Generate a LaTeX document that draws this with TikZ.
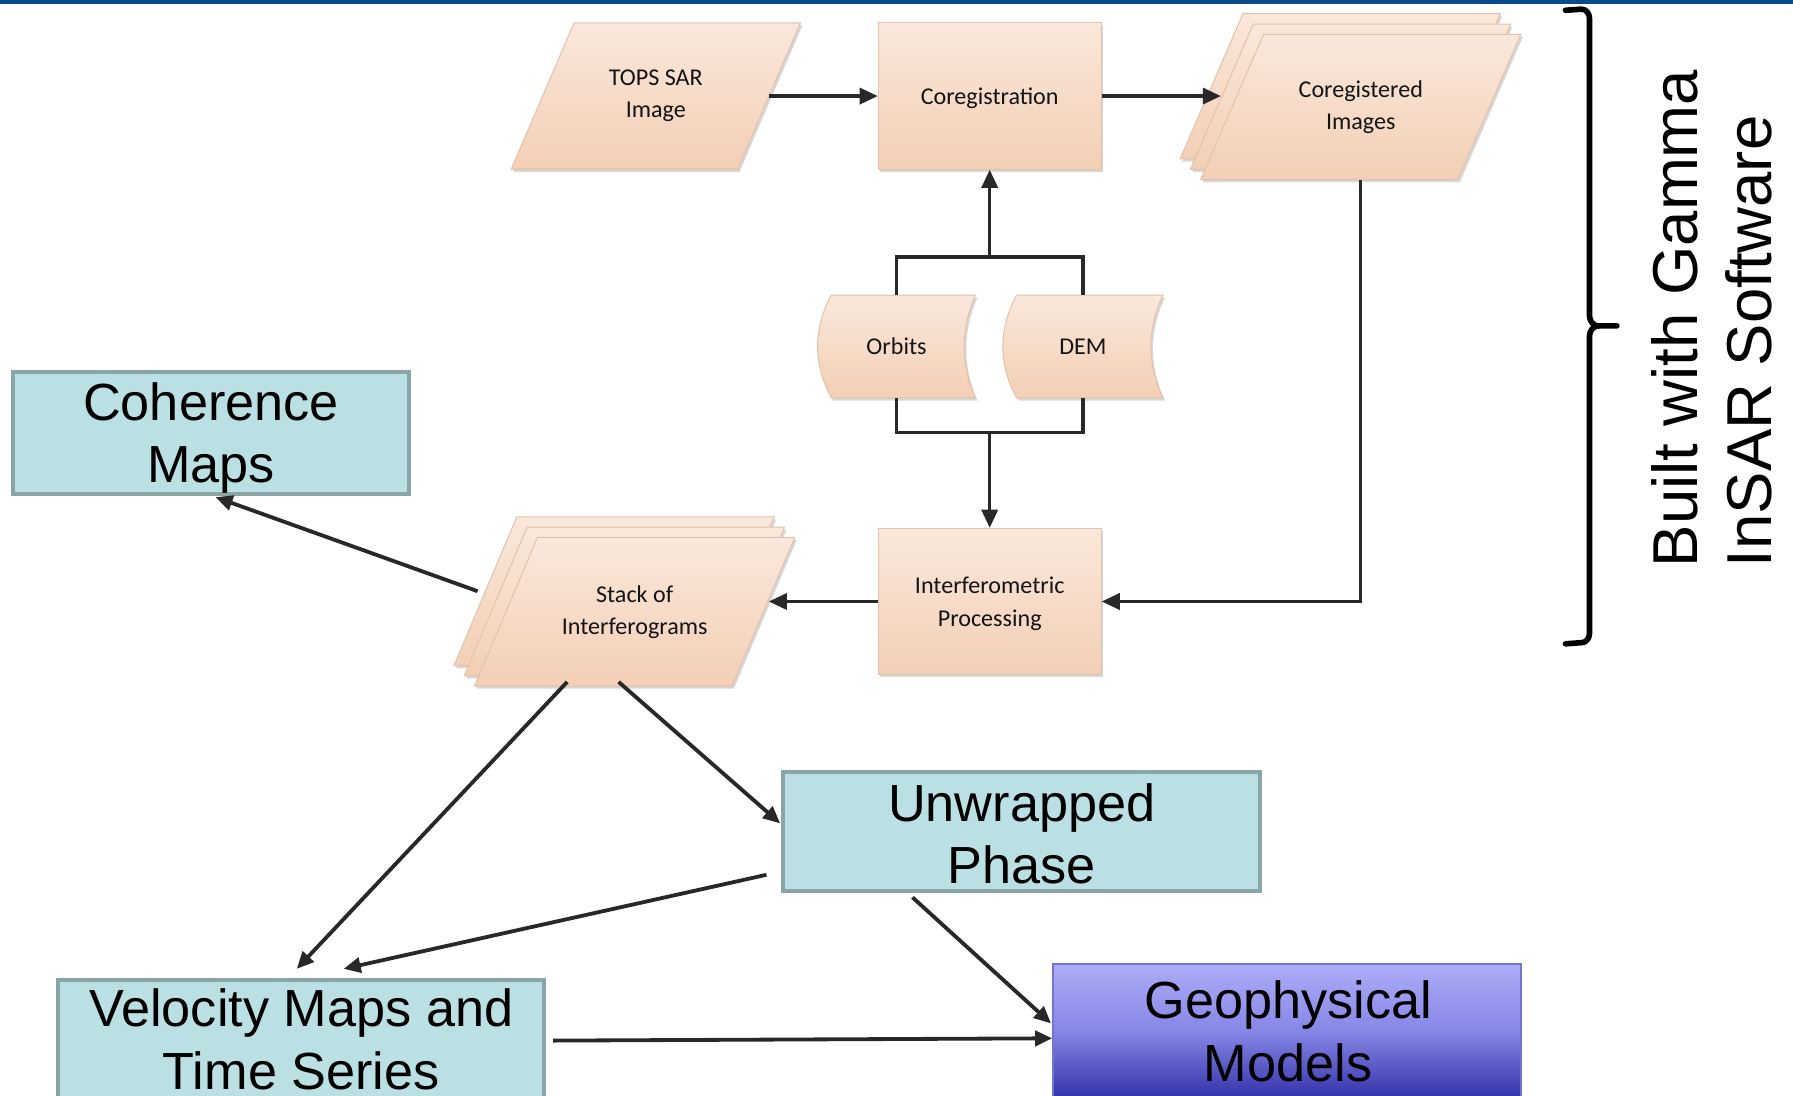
\documentclass[tikz,border=0pt]{standalone}
\usepackage{fontspec}
\setmainfont{Liberation Sans}
\newfontfamily\calfont{Carlito}
\usetikzlibrary{arrows.meta,calc,shadows}
\definecolor{navyband}{HTML}{0A4A8C}
\definecolor{peachtop}{HTML}{FAE8DC}
\definecolor{peachbot}{HTML}{F3CFB5}
\definecolor{peachedge}{HTML}{E3C2A8}
\definecolor{tealfill}{HTML}{BBE0E3}
\definecolor{tealedge}{HTML}{8AA5A8}
\definecolor{arrowgray}{HTML}{282828}
\definecolor{geotop}{HTML}{ADADF8}
\definecolor{geomid}{HTML}{8585E6}
\definecolor{geobot}{HTML}{2E2EA6}
\definecolor{geoedge}{HTML}{7474D0}
\newcommand\sheetshape[4]{%
  \path[sheet] ({#1-#3/2},{#2+#4/2}) -- ({#1-#3/2+55},{#2-#4/2}) -- ({#1+#3/2},{#2-#4/2}) -- ({#1+#3/2-55},{#2+#4/2}) -- cycle;}
\tikzset{
  sheet/.style={draw=peachedge, line width=0.5pt, top color=peachtop, bottom color=peachbot,
    drop shadow={shadow xshift=1pt, shadow yshift=-1.3pt, opacity=0.22, fill=black!70}},
  stext/.style={font=\calfont\fontsize{12}{16}\selectfont, align=center, text=black!92, inner sep=0pt},
  procbox/.style={rectangle, draw=peachedge, line width=0.5pt, top color=peachtop, bottom color=peachbot,
    drop shadow={shadow xshift=1pt, shadow yshift=-1.3pt, opacity=0.22, fill=black!70},
    minimum width=3.9cm, minimum height=2.56cm},
  tealbox/.style={rectangle, draw=tealedge, line width=2pt, fill=tealfill, inner sep=0pt},
  bigtext/.style={inner sep=0pt, font=\fontsize{26}{31}\selectfont, align=center},
  fline/.style={draw=arrowgray, line width=1.6pt},
  farrow/.style={fline, -{Triangle[length=9pt,width=8pt]}},
  barrow/.style={draw=arrowgray, line width=1.9pt, -{Triangle[length=8.5pt,width=7.5pt]}},
}
\begin{document}
\begin{tikzpicture}[x=0.02cm,y=-0.02cm]
\useasboundingbox (0,0) rectangle (1568,958);
\clip (0,0) rectangle (1568,958);
\fill[white] (0,0) rectangle (1568,958);
\fill[navyband] (0,0) rectangle (1568,3.5);

% --- top flowchart ---
\sheetshape{573.5}{84}{253}{128}
\node[stext, minimum width=5.06cm, minimum height=2.56cm] (tops) at (573.5,84) {TOPS SAR\\Image};

\node[procbox] (coreg) at (865.5,84) {};
\node[stext] (coregt) at (865.5,86) {Coregistration};

\sheetshape{1172}{75.5}{280}{127}
\sheetshape{1181}{84.5}{280}{127}
\sheetshape{1190}{93.5}{280}{127}
\node[stext, minimum width=5.6cm, minimum height=2.54cm] (coregimg) at (1190,93.5) {Coregistered\\Images};

% stored data shapes
\path[sheet] (727,258) -- (853,258) .. controls (840,288) and (840,318) .. (853,348) -- (727,348) .. controls (711,318) and (711,288) .. (727,258) -- cycle;
\node[stext, minimum width=2.6cm, minimum height=1.8cm] (orbits) at (784,303) {Orbits};
\path[sheet] (889,258) -- (1017,258) .. controls (1003,288) and (1003,318) .. (1017,348) -- (889,348) .. controls (873,318) and (873,288) .. (889,258) -- cycle;
\node[stext, minimum width=2.6cm, minimum height=1.8cm] (dem) at (947,303) {DEM};

\node[procbox] (interf) at (865.5,526) {};
\node[stext] (interft) at (865.5,528) {Interferometric\\Processing};

\sheetshape{537}{517}{280}{130}
\sheetshape{546}{526}{280}{130}
\sheetshape{555}{535}{280}{130}
\node[stext, minimum width=5.6cm, minimum height=2.6cm] (stack) at (555,535) {Stack of\\Interferograms};

\coordinate (jt) at (865.5,225);
\coordinate (jb) at (865.5,378);
\draw[farrow] ($(tops.east)+(-27.5,0)$) -- (coreg.west);
\draw[farrow] (coreg.east) -- ($(coregimg.west)+(18,-9.5)$);
\draw[fline] (orbits.north) -- ++(0,-33) -| (dem.north);
\draw[fline] (orbits.south) -- ++(0,30) -| (dem.south);
\draw[farrow] (jt) -- (coreg.south);
\draw[farrow] (jb) -- (interf.north);
\draw[farrow] (coregimg.south) |- (interf.east);
\draw[farrow] (interf.west) -- ($(stack.east)+(-23,-9)$);

% --- lower boxes ---
\node[tealbox, minimum width=6.94cm, minimum height=2.14cm] (coherence) at (184.5,378.5) {};
\node[bigtext] (coherencet) at (184.5,383) {Coherence\\Maps};
\node[tealbox, minimum width=8.34cm, minimum height=2.08cm] (unwrapped) at (893.5,727) {};
\node[bigtext] (unwrappedt) at (893.5,729) {Unwrapped\\Phase};
\node[tealbox, minimum width=8.5cm, minimum height=2.4cm] (velocity) at (263.5,917) {};
\node[bigtext] (velocityt) at (263.5,909) {Velocity Maps and\\Time Series};
\node[rectangle, draw=geoedge, line width=1pt, top color=geotop, bottom color=geobot, middle color=geomid,
  minimum width=8.18cm, minimum height=2.4cm] (geo) at (1125.5,903) {};
\node[bigtext] (geot) at (1126.5,902) {Geophysical\\Models};

\draw[barrow] ($(stack.west)+(3,-18)$) -- ($(coherence.south)+(4,1)$);
\draw[barrow] ($(stack.south)+(-14,-4)$) -- ($(unwrapped.west)+(-1,-7)$);
\draw[barrow] ($(stack.south)+(-59,-4)$) -- ($(velocity.north)+(-4,-8)$);
\draw[barrow] ($(unwrapped.west)+(-13,38)$) -- ($(velocity.north)+(37,-8)$);
\draw[barrow] ($(velocity.east)+(6,-7)$) -- ($(geo.west)+(0,5)$);
\draw[barrow] ($(unwrapped.south)+(-95.5,4)$) -- ($(geo.west)+(-1,-8)$);

% --- brace and side label ---
\draw[line width=2.8pt, line cap=round, line join=round]
  (1369,9) -- (1383,8) to[out=0,in=90] (1390,16) -- (1390,276)
  to[out=-90,in=180] (1398,285) -- (1414,285);
\draw[line width=2.8pt, line cap=round, line join=round]
  (1398,285) to[out=180,in=90] (1390,294) -- (1390,554)
  to[out=-90,in=0] (1383,562) -- (1369,563);
\node[rotate=90, align=left, inner sep=0pt, font=\fontsize{31.6}{37}\selectfont] (built) at (1497,278.5) {Built with Gamma\\InSAR Software};
\end{tikzpicture}
\end{document}
